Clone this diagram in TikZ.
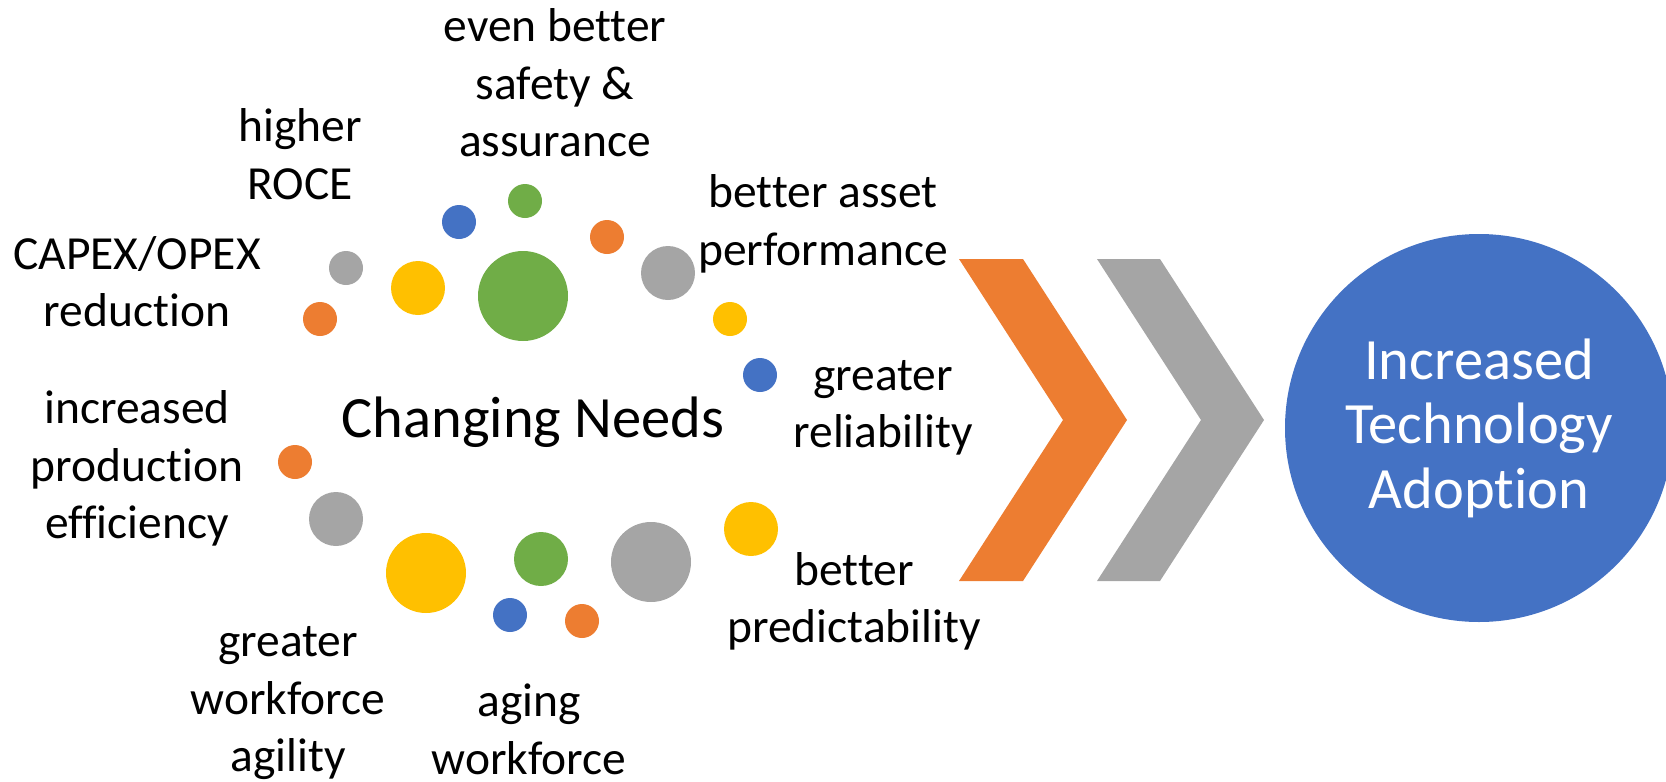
\documentclass[tikz,border=0pt]{standalone}
\usepackage{fontspec}
\setmainfont{Carlito}[Ligatures=NoCommon]
\definecolor{accorange}{HTML}{ED7D31}
\definecolor{accgray}{HTML}{A5A5A5}
\definecolor{accblue}{HTML}{4472C4}
\definecolor{accyellow}{HTML}{FFC000}
\definecolor{accgreen}{HTML}{70AD47}

\begin{document}
\begin{tikzpicture}[x=1pt, y=-1pt,
  need/.style={align=center, anchor=base, inner sep=0pt, font=\fontsize{47.5}{57.5}\selectfont},
  dot/.style={circle, inner sep=0pt, minimum size=#1}]
\clip (0,0) rectangle (1666,782);

% bubbles around the changing needs
\foreach \n/\x/\y/\d/\c in {
  c1/320/319/34/accorange, c2/346/268/34/accgray, c3/418/288/54/accyellow,
  c4/459/222/34/accblue, c5/525/201/34/accgreen, c6/523/296/90/accgreen,
  c7/607/237/34/accorange, c8/668/273/54/accgray, c9/730/319/34/accyellow,
  c10/760/375/34/accblue, c11/295/462/34/accorange, c12/336/519/54/accgray,
  c13/426/573/80/accyellow, c14/510/615/34/accblue, c15/541/559/54/accgreen,
  c16/582/621/34/accorange, c17/651/562/80/accgray, c18/751/529/54/accyellow}
  \node[dot=\d pt, fill=\c] (\n) at (\x,\y) {};

\node[need, font=\fontsize{58.5}{68}\selectfont] (needs) at (533,437.7) {Changing Needs};

% labels, placed at the baseline of their last line
\node[need] (roce) at (300,199.3) {higher\\ROCE};
\node[need] (safety) at (555,156.7) {even better\\safety \&\\assurance};
\node[need] (capex) at (137,326.7) {CAPEX/OPEX\\reduction};
\node[need] (asset) at (823,265) {better asset\\performance};
\node[need] (reliab) at (883,447.7) {greater\\reliability};
\node[need] (prod) at (137,538.7) {increased\\production\\efficiency};
\node[need] (agility) at (288,771.5) {greater\\workforce\\agility};
\node[need] (aging) at (529,774.3) {aging\\workforce};
\node[need] (predict) at (854,642.7) {better\\predictability};

% chevrons
\fill[accorange] (959,259) -- (1023,259) -- (1127,420) -- (1023,581) -- (959,581) -- (1063,420) -- cycle;
\fill[accgray] (1097,259) -- (1160,259) -- (1264,420) -- (1160,581) -- (1097,581) -- (1201,420) -- cycle;

\node[dot=388pt, fill=accblue, text=white, align=center,
  font=\fontsize{58.5}{64.6}\selectfont] (goal) at (1479,428) {Increased\\Technology\\Adoption};
\end{tikzpicture}
\end{document}
